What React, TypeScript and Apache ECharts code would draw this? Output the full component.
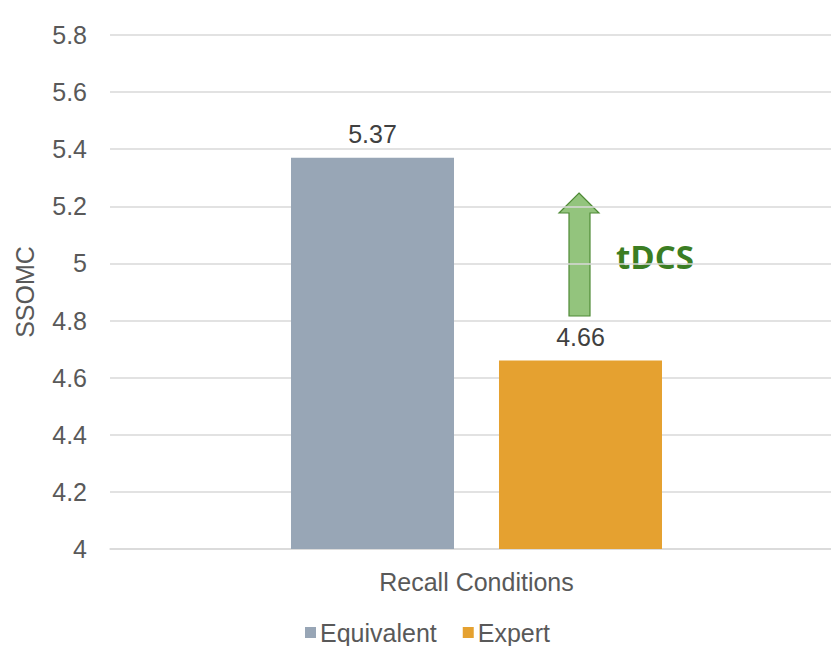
import React, { useEffect, useRef } from "react";
import * as echarts from "echarts";

const categories = ["Recall Conditions"];
const seriesNames = ["Equivalent", "Expert"];
const equivalentValues = [5.37];
const expertValues = [4.66];
const yTicks = { min: 4, max: 5.8, interval: 0.2 };
const annotationText = "tDCS";

export default function App() {
  const ref = useRef<HTMLDivElement>(null);
  useEffect(() => {
    if (!ref.current) return;
    document.body.style.overflow = "hidden";
    const chart = echarts.init(ref.current, null, { renderer: "svg" });
    const font = "'Liberation Sans', Arial, sans-serif";
    const labelCommon = {
      show: true,
      position: "top",
      distance: 11,
      fontSize: 25,
      color: "#404040",
      fontFamily: font,
      formatter: (p: any) => p.value.toFixed(2),
    };
    chart.setOption({
      animation: false,
      backgroundColor: "#ffffff",
      textStyle: { fontFamily: font },
      grid: { left: 110, top: 35, width: 733, bottom: 97 },
      legend: {
        data: seriesNames,
        left: 305,
        top: 620,
        padding: 0,
        icon: "rect",
        itemWidth: 11,
        itemHeight: 11,
        itemGap: 26,
        textStyle: { fontSize: 25, color: "#595959", fontFamily: font, padding: [0, 0, 0, -1] },
      },
      xAxis: {
        type: "category",
        data: categories,
        axisLine: { lineStyle: { color: "#d9d9d9", width: 1.5 } },
        axisTick: { show: false },
        axisLabel: { fontSize: 25, color: "#595959", margin: 20, fontFamily: font },
      },
      yAxis: {
        type: "value",
        min: yTicks.min,
        max: yTicks.max,
        interval: yTicks.interval,
        name: "SSOMC",
        nameLocation: "middle",
        nameGap: 73,
        nameTextStyle: { fontSize: 25, color: "#595959", fontFamily: font },
        axisLine: { show: false },
        axisTick: { show: false },
        axisLabel: {
          fontSize: 25,
          color: "#595959",
          margin: 23,
          fontFamily: font,
          formatter: (v: number) => String(parseFloat(v.toFixed(1))),
        },
        splitLine: { lineStyle: { color: "#d9d9d9", width: 1.5 } },
      },
      series: [
        {
          name: seriesNames[0],
          type: "bar",
          data: equivalentValues,
          barWidth: 163,
          barGap: "27.6%",
          itemStyle: { color: "#98a6b6" },
          label: labelCommon,
        },
        {
          name: seriesNames[1],
          type: "bar",
          data: expertValues,
          barWidth: 163,
          itemStyle: { color: "#e5a130" },
          label: labelCommon,
        },
      ],
      graphic: [
        {
          type: "polygon",
          shape: {
            points: [
              [579, 193],
              [599, 213],
              [590, 213],
              [590, 316],
              [569, 316],
              [569, 213],
              [559, 213],
            ],
          },
          style: { fill: "#93c47d", stroke: "#4f8a36", lineWidth: 1.2 },
        },
        {
          type: "text",
          x: 616,
          y: 256,
          style: {
            text: annotationText,
            fill: "#3b7d23",
            font: "bold 33px 'Open Sans', sans-serif",
            verticalAlign: "middle",
          },
        },
      ],
    });
    return () => chart.dispose();
  }, []);
  return (
    <div
      ref={ref}
      style={{ position: "fixed", left: 0, top: 0, width: 860, height: 646, background: "#fff" }}
    />
  );
}
